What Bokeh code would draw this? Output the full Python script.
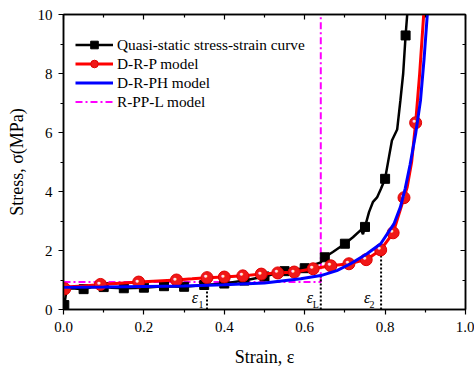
from bokeh.plotting import figure
from bokeh.models import (Range1d, LinearAxis, Legend, LegendItem, ColumnDataSource,
                          FixedTicker, CustomJSTickFormatter)
from bokeh.core.properties import value
from bokeh.embed import file_html
from bokeh.resources import INLINE

# ---- data ----
qs_x = [0, 0.002, 0.008, 0.02, 0.05, 0.07, 0.1, 0.12, 0.15, 0.2, 0.25, 0.3, 0.35, 0.4, 0.45, 0.5,
        0.55, 0.6, 0.62, 0.64, 0.65, 0.67, 0.7, 0.72, 0.74, 0.745, 0.75, 0.76, 0.77, 0.78, 0.79,
        0.8, 0.81, 0.817, 0.83, 0.838, 0.845, 0.851, 0.855]
qs_y = [0, 0.15, 0.7, 0.72, 0.69, 0.75, 0.76, 0.74, 0.72, 0.74, 0.79, 0.77, 0.83, 0.88, 0.98, 1.12,
        1.3, 1.4, 1.5, 1.6, 1.77, 1.95, 2.23, 2.45, 2.7, 2.55, 2.8, 3.3, 3.65, 3.8, 4.1,
        4.43, 5.2, 5.73, 6.1, 7.08, 8.0, 9.29, 10.0]
qs_mx = [0.002, 0.05, 0.1, 0.15, 0.2, 0.25, 0.3, 0.35, 0.4, 0.45, 0.5, 0.55, 0.6, 0.65, 0.7, 0.75, 0.8, 0.851]
qs_my = [0.15, 0.69, 0.76, 0.72, 0.74, 0.79, 0.77, 0.83, 0.88, 0.98, 1.12, 1.3, 1.4, 1.77, 2.23, 2.8, 4.43, 9.29]

drp_x = [0, 0.003, 0.05, 0.093, 0.14, 0.187, 0.235, 0.281, 0.32, 0.357, 0.4, 0.446, 0.492, 0.533,
         0.574, 0.621, 0.665, 0.71, 0.753, 0.789, 0.82, 0.847, 0.855, 0.866, 0.876, 0.886, 0.896]
drp_y = [0.75, 0.76, 0.8, 0.85, 0.89, 0.93, 0.97, 1.0, 1.04, 1.08, 1.1, 1.14, 1.2, 1.24,
         1.27, 1.38, 1.48, 1.55, 1.69, 2.02, 2.6, 3.79, 4.15, 5.0, 6.33, 8.0, 10.0]
drp_mx = [0.003, 0.092, 0.187, 0.281, 0.357, 0.4, 0.446, 0.492, 0.533, 0.574, 0.621, 0.665,
          0.71, 0.753, 0.789, 0.82, 0.847, 0.876]
drp_my = [0.7, 0.85, 0.93, 1.0, 1.08, 1.1, 1.14, 1.2, 1.24, 1.27, 1.38, 1.48,
          1.55, 1.69, 2.02, 2.6, 3.79, 6.33]

drph_x = [0.0, 0.1, 0.2, 0.3, 0.4, 0.5, 0.59, 0.64, 0.68, 0.714, 0.755, 0.789, 0.822, 0.838,
          0.85, 0.862, 0.876, 0.888, 0.897, 0.905]
drph_y = [0.75, 0.76, 0.78, 0.8, 0.84, 0.9, 1.04, 1.15, 1.32, 1.55, 1.89, 2.23, 2.9, 3.47,
          4.1, 4.9, 5.96, 7.08, 8.5, 10.0]

rppl_x = [0.0, 0.64, 0.64]
rppl_y = [0.93, 0.93, 10.0]

eps_x = [0.357, 0.64, 0.79]
eps_top = [1.08, 1.17, 2.02]
eps_sub = ["1", "L", "2"]

x_ticks = [0.0, 0.2, 0.4, 0.6, 0.8, 1.0]
x_minor = [0.1, 0.3, 0.5, 0.7, 0.9]
y_ticks = [0, 2, 4, 6, 8, 10]
y_minor = [1, 3, 5, 7, 9]

FONT = "Liberation Serif"

p = figure(width=474, height=372, output_backend="svg", toolbar_location=None,
           x_range=Range1d(0, 1.0), y_range=Range1d(0, 10),
           min_border_left=63, min_border_right=9, min_border_top=14, min_border_bottom=63)
p.grid.visible = False
p.outline_line_color = "black"
p.outline_line_width = 1.5
p.background_fill_color = "white"
p.border_fill_color = "white"

p.xaxis[0].ticker = FixedTicker(ticks=x_ticks, minor_ticks=x_minor)
p.yaxis[0].ticker = FixedTicker(ticks=y_ticks, minor_ticks=y_minor)
p.xaxis[0].formatter = CustomJSTickFormatter(code="return tick.toFixed(1);")
p.yaxis[0].formatter = CustomJSTickFormatter(code="return tick.toFixed(0);")
p.xaxis[0].axis_label = "Strain, ε"
p.yaxis[0].axis_label = "Stress, σ(MPa)"

for ax in (p.xaxis[0], p.yaxis[0]):
    ax.major_tick_in = 0
    ax.major_tick_out = 5
    ax.minor_tick_in = 0
    ax.minor_tick_out = 3
    ax.axis_line_color = "black"
    ax.axis_line_width = 1.5
    ax.major_tick_line_width = 1.2
    ax.minor_tick_line_width = 1.2
    ax.major_label_text_font = FONT
    ax.major_label_text_font_size = "15px"
    ax.major_label_text_color = "black"
    ax.axis_label_text_font = FONT
    ax.axis_label_text_font_size = "18px"
    ax.axis_label_text_font_style = "normal"
    ax.axis_label_text_color = "black"

p.xaxis[0].major_label_standoff = 7
p.yaxis[0].major_label_standoff = 6
p.xaxis[0].axis_label_standoff = 12
p.yaxis[0].axis_label_standoff = 8

for loc, ticks, minor in (("above", x_ticks, x_minor), ("right", y_ticks, y_minor)):
    ax = LinearAxis(ticker=FixedTicker(ticks=ticks, minor_ticks=minor),
                    formatter=CustomJSTickFormatter(code="return '';"),
                    major_label_standoff=0,
                    major_tick_in=5, major_tick_out=0, minor_tick_in=3, minor_tick_out=0,
                    major_tick_line_width=1.2, minor_tick_line_width=1.2,
                    axis_line_color="black", axis_line_width=1.5)
    p.add_layout(ax, loc)

# R-PP-L model
r_rppl = p.line(rppl_x, rppl_y, line_color="#ff00ff", line_width=2, line_dash="7 3 2 3")

# dotted markers
p.segment(x0=eps_x, y0=[0, 0, 0], x1=eps_x, y1=eps_top, line_color="black",
          line_width=2, line_dash="2 2")

# quasi-static
r_qs_l = p.line(qs_x, qs_y, line_color="black", line_width=2.5)
r_qs_m = p.scatter(qs_mx, qs_my, marker="square", size=9, fill_color="black", line_color="black")

# D-R-P
r_drp_l = p.line(drp_x, drp_y, line_color="#ff0000", line_width=3)
r_drp_m = p.scatter(drp_mx, drp_my, marker="circle", size=12, fill_color="#f01818",
                    line_color="#e00000", line_width=1)
r_drp_h = p.text(drp_mx, drp_my, text=["●"] * len(drp_mx), text_font_size="7px",
                 text_color="#ffe4e4", text_align="center", text_baseline="middle",
                 x_offset=-1.5, y_offset=-2)

# D-R-PH
r_drph = p.line(drph_x, drph_y, line_color="#0000ff", line_width=3)

# epsilon labels
src = ColumnDataSource(dict(x=eps_x, y=[0, 0, 0], t=["ε"] * 3, s=eps_sub,
                            xo=[-12, -11, -14], xs=[-6, -5, -9]))
p.text(x="x", y="y", text="t", source=src, text_font=value(FONT), text_font_style="italic",
       text_font_size="16px", text_color="black", text_align="center", text_baseline="middle",
       x_offset="xo", y_offset=-12)
p.text(x="x", y="y", text="s", source=src, text_font=value(FONT),
       text_font_size="10px", text_color="black", text_align="center", text_baseline="middle",
       x_offset="xs", y_offset=-5)

legend = Legend(items=[
    LegendItem(label="Quasi-static stress-strain curve", renderers=[r_qs_l, r_qs_m]),
    LegendItem(label="D-R-P model", renderers=[r_drp_l, r_drp_m, r_drp_h]),
    LegendItem(label="D-R-PH model", renderers=[r_drph]),
    LegendItem(label="R-PP-L model", renderers=[r_rppl]),
], location=(12, 198), padding=0, margin=0, spacing=0,
    glyph_width=38, glyph_height=19, label_height=19, label_standoff=4,
    label_text_font=FONT, label_text_font_size="15.3px", label_text_color="black",
    border_line_alpha=0, background_fill_alpha=0)
p.add_layout(legend)

open("out.html", "w").write(file_html(p, INLINE))
